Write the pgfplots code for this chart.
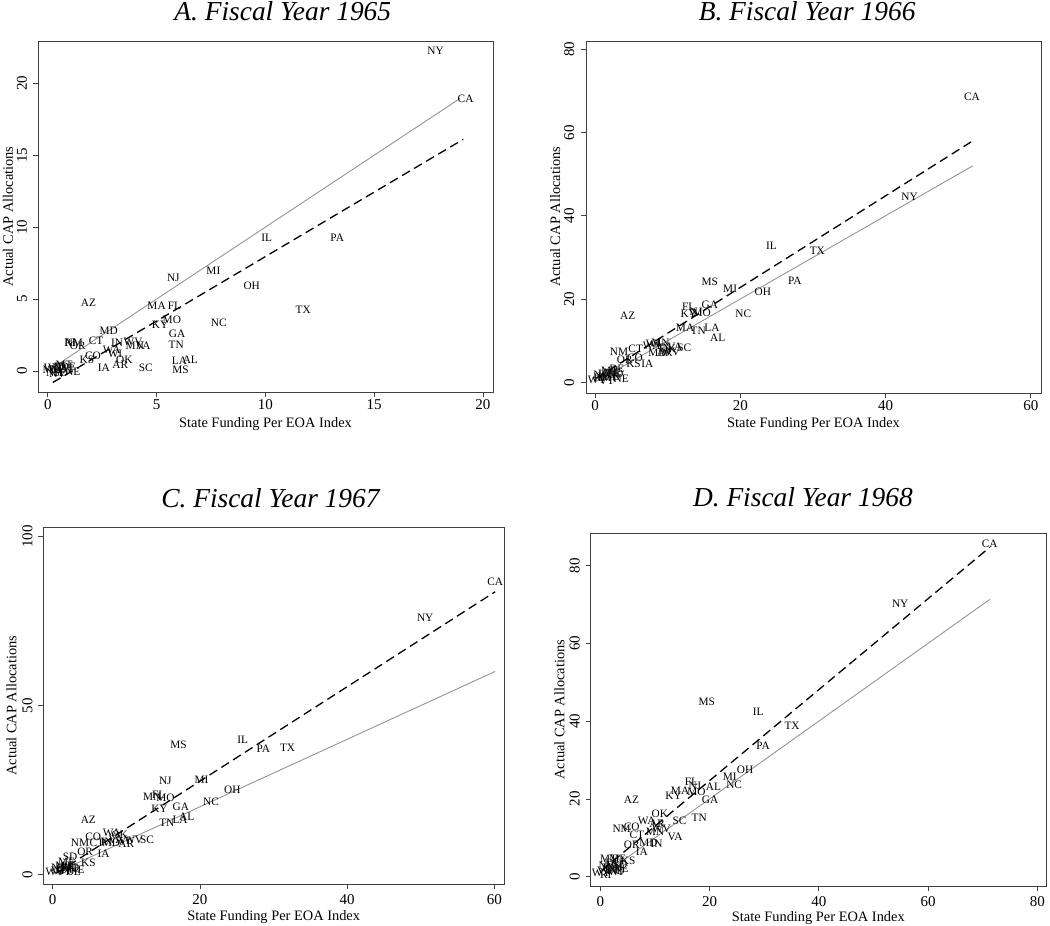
\documentclass[border=0pt]{standalone}
\usepackage{pgfplots}
\pgfplotsset{compat=1.18}
\usepackage{fontspec}
\setmainfont{Liberation Serif}
\definecolor{axgray}{gray}{0.25}
\definecolor{fitgray}{gray}{0.58}
\pgfplotsset{
  stata/.style={
    scale only axis,
    axis line style={axgray, line width=0.8pt},
    every tick/.style={axgray, line width=0.8pt},
    tick align=outside,
    major tick length=5pt,
    xtick pos=bottom, ytick pos=left,
    /pgf/number format/assume math mode=true,
    tick label style={font=\fontsize{15}{15}\selectfont, inner sep=0pt},
    xlabel={State Funding Per EOA Index},
    ylabel={Actual CAP Allocations},
    every node near coord/.style={anchor=center, inner sep=0pt, font=\fontsize{11.3}{11.3}\selectfont, text=black},
    clip=false,
  },
  xlab/.style={every axis x label/.style={at={(axis description cs:0.5,0)}, anchor=base, yshift=-#1, font=\fontsize{14.4}{14.4}\selectfont, inner sep=0pt}},
  ylab/.style={every axis y label/.style={at={(axis description cs:0,0.5)}, xshift=-#1, rotate=90, anchor=base, font=\fontsize{14.4}{14.4}\selectfont, inner sep=0pt}},
  xtl/.style={xticklabel style={anchor=base, yshift=-#1}},
  ytl/.style={yticklabel style={xshift=-#1, rotate=90, anchor=base}},
  ttl/.style 2 args={every axis title/.style={at={(axis description cs:#1,1)}, anchor=base, yshift=#2, font=\fontsize{27.4}{28}\selectfont\itshape, inner sep=0pt}},
  states/.style={draw=none, mark=none, nodes near coords, point meta=explicit symbolic},
  fit45/.style={fitgray, line width=0.9pt, mark=none},
  fitreg/.style={black, line width=1.3pt, dash pattern=on 9pt off 5pt, mark=none},
}
\begin{document}
\begin{tikzpicture}
\useasboundingbox (0,0) rectangle (1050pt,926pt);
% ---------------- A ----------------
\begin{axis}[stata, at={(38pt,534pt)}, anchor=south west, width=455pt, height=351pt,
  xmin=-0.45, xmax=20.46, ymin=-1.46, ymax=22.94,
  xtick={0,5,10,15,20}, ytick={0,5,10,15,20},
  xlab=35.5pt, ylab=25pt, xtl=12.5pt, ytl=6pt, ttl={0.538}{20pt},
  title={A. Fiscal Year 1965}]
\addplot[fit45] coordinates {(0.4,0.4) (18.95,18.95)};
\addplot[fitreg] coordinates {(0.23,-0.80) (19.09,16.10)};
\addplot[states] table[x=x, y=y, meta=s] {
s x y
NY 17.82 22.25
CA 19.20 18.90
IL 10.06 9.27
PA 13.30 9.23
NJ 5.77 6.49
MI 7.61 6.98
OH 9.37 5.91
TX 11.74 4.24
NC 7.86 3.36
AZ 1.87 4.75
MA 5.00 4.52
FL 5.82 4.52
MO 5.70 3.58
KY 5.16 3.20
GA 5.94 2.60
TN 5.90 1.85
MD 2.80 2.78
CT 2.22 2.09
RI 1.02 1.95
NM 1.20 1.95
OR 1.38 1.74
IN 3.18 1.95
WV 3.92 2.00
MN 4.00 1.75
VA 4.38 1.75
WA 2.94 1.50
WI 3.09 1.18
CO 2.08 1.04
KS 1.80 0.80
IA 2.57 0.19
OK 3.52 0.76
AR 3.33 0.42
SC 4.50 0.21
LA 6.05 0.70
AL 6.55 0.78
MS 6.10 0.10
ME 0.15 0.05
NH 0.30 -0.10
VT 0.35 0.20
ND 0.50 0.05
SD 0.60 -0.15
NE 1.15 -0.05
MT 0.75 0.40
ID 0.55 0.30
WY 0.25 0.25
UT 0.85 0.15
NV 0.45 -0.20
DE 0.95 0.30
};
\end{axis}
% ---------------- B ----------------
\begin{axis}[stata, at={(586pt,533pt)}, anchor=south west, width=455pt, height=352pt,
  xmin=-1.24, xmax=61.4, ymin=-2.57, ymax=82.0,
  xtick={0,20,40,60}, ytick={0,20,40,60,80},
  xlab=34.7pt, ylab=26pt, xtl=12.3pt, ytl=7pt, ttl={0.486}{20pt},
  title={B. Fiscal Year 1966}]
\addplot[fit45] coordinates {(0.2,0.2) (52.0,52.0)};
\addplot[fitreg] coordinates {(0.2,1.0) (52.0,58.0)};
\addplot[states] table[x=x, y=y, meta=s] {
s x y
CA 51.9 68.6
NY 43.3 44.6
IL 24.3 32.8
TX 30.6 31.6
MS 15.8 24.2
MI 18.6 22.5
PA 27.5 24.4
OH 23.1 21.8
GA 15.8 18.7
FL 12.9 18.2
NJ 13.9 17.0
KY 12.9 16.4
MO 14.7 16.6
NC 20.4 16.4
AZ 4.5 16.1
MA 12.4 13.0
TN 14.2 12.3
LA 16.1 13.0
AL 16.9 10.6
NM 3.3 7.4
CT 5.6 8.0
WI 8.0 9.2
MN 9.0 9.6
IN 9.6 8.3
VA 11.0 8.6
SC 12.3 8.2
WV 10.4 7.3
MD 8.6 7.0
AR 9.6 7.0
WA 7.8 8.8
OK 10.0 8.0
OR 4.1 5.4
CO 5.5 5.8
KS 5.3 4.4
IA 7.2 4.4
WY 0.3 0.6
ID 1.2 1.3
UT 1.5 2.1
MT 2.0 2.8
NV 0.9 1.7
ME 2.4 2.4
NH 1.8 1.0
VT 1.6 0.4
ND 2.8 2.0
SD 2.5 1.4
NE 3.6 0.9
DE 3.0 3.2
RI 0.6 1.0
};
\end{axis}
% ---------------- C ----------------
\begin{axis}[stata, at={(43.3pt,41.7pt)}, anchor=south west, width=460.7pt, height=357pt,
  xmin=-1.28, xmax=61.3, ymin=-2.96, ymax=102.8,
  xtick={0,20,40,60}, ytick={0,50,100},
  xlab=36.7pt, ylab=27pt, xtl=15.7pt, ytl=6pt, ttl={0.493}{19.6pt},
  title={C. Fiscal Year 1967}]
\addplot[fit45] coordinates {(0.3,0.3) (60.1,60.1)};
\addplot[fitreg] coordinates {(0.5,0.3) (60.1,83.7)};
\addplot[states] table[x=x, y=y, meta=s] {
s x y
CA 60.1 86.7
NY 50.6 76.0
IL 25.8 39.8
PA 28.6 37.3
TX 31.9 37.5
MS 17.1 38.5
NJ 15.3 27.7
MI 20.2 27.9
OH 24.4 25.0
MN 13.5 23.0
FL 14.4 23.6
MO 15.3 22.6
KY 14.5 19.5
GA 17.4 20.0
NC 21.5 21.5
TN 15.5 15.4
LA 17.3 16.1
AL 18.2 16.9
AZ 4.84 16.1
CO 5.5 11.1
WA 8.0 12.3
OK 9.1 11.6
NM 3.7 9.4
CT 6.0 9.3
IN 7.3 9.5
VA 8.6 10.2
MD 7.9 9.2
AR 10.0 9.0
WV 11.0 10.3
SC 12.8 10.3
WI 9.5 10.0
OR 4.4 6.7
IA 6.9 6.2
SD 2.35 5.2
KS 4.84 3.3
ME 1.9 3.7
WY 0.3 0.6
VT 0.8 0.9
ID 1.2 1.4
UT 1.6 1.0
NV 0.9 1.8
NH 2.2 1.5
ND 2.5 1.9
MT 1.5 2.6
NE 3.3 1.3
DE 2.8 0.8
RI 1.8 2.3
};
\end{axis}
% ---------------- D ----------------
\begin{axis}[stata, at={(590.7pt,40pt)}, anchor=south west, width=455.3pt, height=352.7pt,
  xmin=-1.76, xmax=81.6, ymin=-2.39, ymax=88.3,
  xtick={0,20,40,60,80}, ytick={0,20,40,60,80},
  xlab=35.7pt, ylab=26.4pt, xtl=15.7pt, ytl=6pt, ttl={0.466}{26.6pt},
  title={D. Fiscal Year 1968}]
\addplot[fit45] coordinates {(0.3,0.3) (71.3,71.3)};
\addplot[fitreg] coordinates {(0.3,1.65) (71.3,84.7)};
\addplot[states] table[x=x, y=y, meta=s] {
s x y
CA 71.3 85.5
NY 54.9 70.3
MS 19.5 44.9
IL 28.9 42.5
TX 35.1 38.9
PA 29.8 33.6
OH 26.5 27.4
MI 23.7 25.7
NC 24.5 23.6
FL 16.7 24.4
NJ 17.3 23.4
MA 14.6 22.0
KY 13.4 20.8
MO 17.6 21.9
AL 20.7 23.2
GA 20.1 19.7
AZ 5.7 19.7
TN 18.1 15.2
OK 10.9 16.1
SC 14.5 14.3
WA 8.5 14.4
AR 10.4 13.6
NM 3.9 12.4
CO 5.75 12.9
CT 6.7 10.7
MN 10.0 11.5
WV 11.2 12.2
VA 13.7 10.3
OR 5.75 8.2
MD 8.8 8.6
IN 10.3 8.4
IA 7.6 6.4
MT 1.5 4.7
KS 5.1 4.2
ME 3.2 4.5
WY 0.2 1.0
VT 0.8 1.5
ID 1.5 2.2
UT 2.2 1.8
NV 1.2 2.8
NH 2.6 2.6
ND 3.0 1.6
SD 3.6 3.0
NE 3.8 2.0
DE 2.3 3.5
RI 1.0 0.6
WI 2.8 1.2
};
\end{axis}
\end{tikzpicture}
\end{document}
